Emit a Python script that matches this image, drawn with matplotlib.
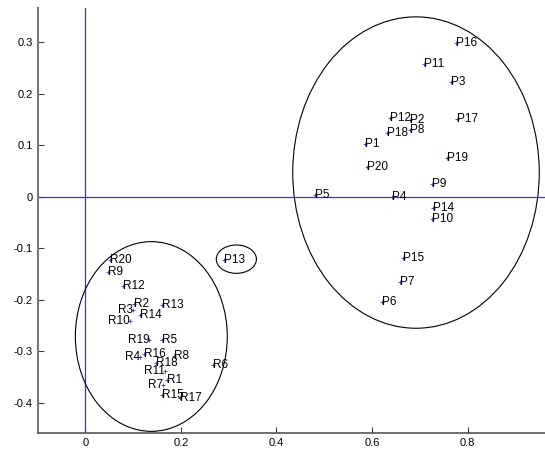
import matplotlib
matplotlib.use('Agg')
import matplotlib.pyplot as plt
from matplotlib.patches import Ellipse

# labels, coordinates and text alignment
p_labels = ['P1', 'P2', 'P3', 'P4', 'P5', 'P6', 'P7', 'P8', 'P9', 'P10',
            'P11', 'P12', 'P13', 'P14', 'P15', 'P16', 'P17', 'P18', 'P19', 'P20']
p_x = [0.585, 0.680, 0.765, 0.642, 0.480, 0.620, 0.658, 0.680, 0.726, 0.726,
       0.709, 0.638, 0.290, 0.728, 0.665, 0.775, 0.777, 0.632, 0.756, 0.590]
p_y = [0.102, 0.149, 0.223, -0.001, 0.003, -0.204, -0.165, 0.130, 0.025, -0.043,
       0.257, 0.152, -0.122, -0.021, -0.118, 0.298, 0.150, 0.124, 0.075, 0.057]

r_labels = ['R1', 'R2', 'R3', 'R4', 'R5', 'R6', 'R7', 'R8', 'R9', 'R10',
            'R11', 'R12', 'R13', 'R14', 'R15', 'R16', 'R17', 'R18', 'R19', 'R20']
r_x = [0.171, 0.102, 0.100, 0.115, 0.161, 0.268, 0.162, 0.185, 0.047, 0.093,
       0.166, 0.079, 0.161, 0.114, 0.161, 0.123, 0.199, 0.147, 0.134, 0.051]
r_y = [-0.356, -0.207, -0.220, -0.311, -0.278, -0.327, -0.366, -0.309, -0.146, -0.240,
       -0.338, -0.173, -0.209, -0.230, -0.385, -0.305, -0.390, -0.323, -0.278, -0.123]
r_align = ['left', 'left', 'right', 'right', 'left', 'left', 'right', 'left', 'left', 'right',
           'right', 'left', 'left', 'left', 'left', 'left', 'left', 'left', 'right', 'left']

# cluster ellipses: centre x, centre y, width, height
clusters = [(0.692, 0.047, 0.516, 0.604),
            (0.138, -0.271, 0.318, 0.368),
            (0.316, -0.121, 0.084, 0.055)]

plt.rcParams['font.family'] = ['Liberation Sans', 'DejaVu Sans']
blue = '#3c3ca6'

fig = plt.figure(figsize=(5.45, 4.5), dpi=100)
ax = fig.add_axes([0.069, 0.038, 0.931, 0.944])

ax.axhline(0, color=blue, linewidth=0.9, zorder=1)
ax.axvline(0, color=blue, linewidth=0.9, zorder=1)

for cx, cy, w, h in clusters:
    ax.add_patch(Ellipse((cx, cy), w, h, fill=False, edgecolor='black', linewidth=0.8))

ax.plot(p_x, p_y, '+', color=blue, markersize=3, mew=0.6, zorder=3)
ax.plot(r_x, r_y, '+', color=blue, markersize=3, mew=0.6, zorder=3)
for lab, x, y in zip(p_labels, p_x, p_y):
    ax.text(x, y, lab, fontsize=8.5, ha='left', va='center')
for lab, x, y, a in zip(r_labels, r_x, r_y, r_align):
    ax.text(x, y, lab, fontsize=8.5, ha=a, va='center')

ax.set_xlim(-0.1, 0.962)
ax.set_ylim(-0.458, 0.366)
ax.set_xticks([0, 0.2, 0.4, 0.6, 0.8])
ax.set_xticklabels(['0', '0.2', '0.4', '0.6', '0.8'])
ax.set_yticks([-0.4, -0.3, -0.2, -0.1, 0, 0.1, 0.2, 0.3])
ax.set_yticklabels(['-0.4', '-0.3', '-0.2', '-0.1', '0', '0.1', '0.2', '0.3'])
ax.tick_params(direction='in', length=4, width=0.8, color='#404040', labelsize=8)
ax.spines['top'].set_visible(False)
ax.spines['right'].set_visible(False)
ax.spines['left'].set_color('#777777')
ax.spines['bottom'].set_color('#555555')
ax.spines['left'].set_linewidth(1.5)
ax.spines['bottom'].set_linewidth(1.2)

fig.savefig('out.png', dpi=100)
